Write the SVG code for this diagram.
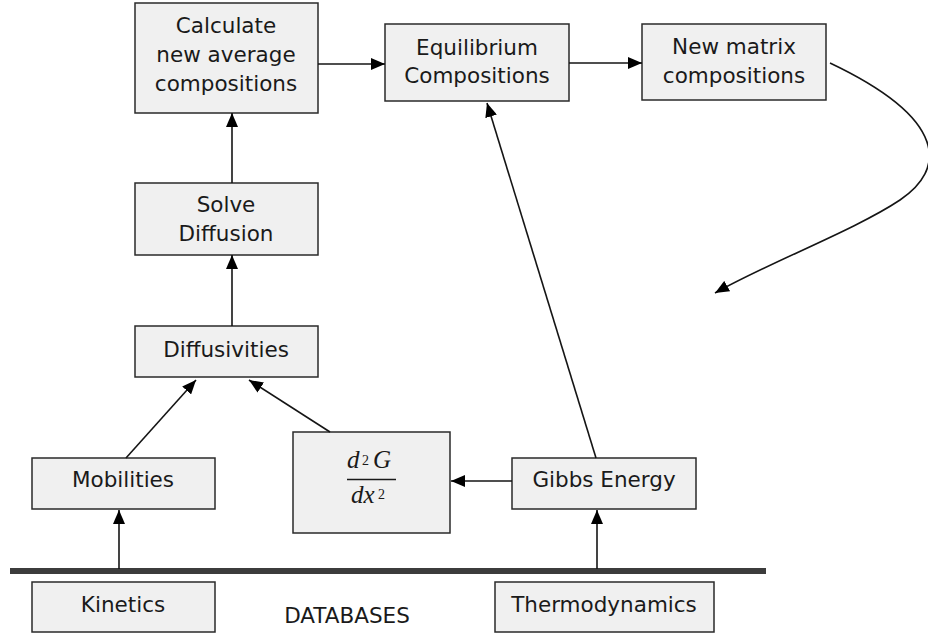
<svg xmlns="http://www.w3.org/2000/svg" width="928" height="635" viewBox="0 0 928 635">
<style>
.box{fill:#f0f0f0;stroke:#2a2a2a;stroke-width:1.5}
.t{font-family:"DejaVu Sans",Verdana,sans-serif;font-size:21.5px;fill:#1a1a1a;text-anchor:middle}
.m{font-family:"Liberation Serif","Times New Roman",serif;font-style:italic;font-size:25px;fill:#1a1a1a}
.s{font-family:"Liberation Serif","Times New Roman",serif;font-size:14px;fill:#1a1a1a}
.c{fill:none;stroke:#151515;stroke-width:1.6}
</style>
<defs>
<marker id="ah" viewBox="0 0 14 12" refX="14" refY="6" markerWidth="14" markerHeight="12" markerUnits="userSpaceOnUse" orient="auto">
<path d="M0,0 L14,6 L0,12 Z" fill="#000"/>
</marker>
</defs>
<rect width="928" height="635" fill="#fff"/>
<g id="calc"><rect class="box" x="135" y="3" width="183" height="110"/>
<text class="t" x="226" y="33">Calculate</text><text class="t" x="226" y="62">new average</text><text class="t" x="226" y="91">compositions</text></g>
<g id="equil"><rect class="box" x="385" y="24" width="184" height="77"/>
<text class="t" x="477" y="55">Equilibrium</text><text class="t" x="477" y="83">Compositions</text></g>
<g id="newmatrix"><rect class="box" x="642" y="24" width="184" height="76"/>
<text class="t" x="734" y="54">New matrix</text><text class="t" x="734" y="83">compositions</text></g>
<g id="solve"><rect class="box" x="135" y="183" width="183" height="72"/>
<text class="t" x="226" y="212">Solve</text><text class="t" x="226" y="241">Diffusion</text></g>
<g id="diffusivities"><rect class="box" x="135" y="326" width="183" height="51"/>
<text class="t" x="226" y="357">Diffusivities</text></g>
<g id="mobilities"><rect class="box" x="32" y="458" width="183" height="51"/>
<text class="t" x="123" y="487">Mobilities</text></g>
<g id="d2g"><rect class="box" x="293" y="432" width="157" height="101"/>
<text class="m" x="347" y="468">d</text><text class="s" x="362" y="465">2</text><text class="m" x="373" y="468">G</text>
<line x1="347" y1="479.5" x2="396" y2="479.5" stroke="#1a1a1a" stroke-width="1.3"/>
<text class="m" x="351" y="503">dx</text><text class="s" x="378" y="499">2</text></g>
<g id="gibbs"><rect class="box" x="512" y="458" width="184" height="51"/>
<text class="t" x="604" y="487">Gibbs Energy</text></g>
<g id="databases"><rect x="10" y="568" width="756" height="6" fill="#3c3c3c"/>
<text class="t" x="347" y="623">DATABASES</text></g>
<g id="kinetics"><rect class="box" x="32" y="582" width="183" height="50"/>
<text class="t" x="123" y="612">Kinetics</text></g>
<g id="thermo"><rect class="box" x="495" y="582" width="219" height="50"/>
<text class="t" x="604" y="612">Thermodynamics</text></g>
<g id="connectors">
<line class="c" x1="318" y1="64" x2="385" y2="64" marker-end="url(#ah)"/>
<line class="c" x1="569" y1="63" x2="642" y2="63" marker-end="url(#ah)"/>
<line class="c" x1="232" y1="183" x2="232" y2="113" marker-end="url(#ah)"/>
<line class="c" x1="232" y1="326" x2="232" y2="255" marker-end="url(#ah)"/>
<line class="c" x1="126" y1="458" x2="196" y2="380" marker-end="url(#ah)"/>
<line class="c" x1="330" y1="432" x2="249" y2="380" marker-end="url(#ah)"/>
<line class="c" x1="512" y1="481" x2="451" y2="481" marker-end="url(#ah)"/>
<line class="c" x1="596" y1="458" x2="487" y2="103" marker-end="url(#ah)"/>
<line class="c" x1="119" y1="569" x2="119" y2="510" marker-end="url(#ah)"/>
<line class="c" x1="597" y1="569" x2="597" y2="510" marker-end="url(#ah)"/>
<path class="c" d="M830,63 C950,120 945,170 900,200 S770,262 715,293" marker-end="url(#ah)"/>
</g>
</svg>
